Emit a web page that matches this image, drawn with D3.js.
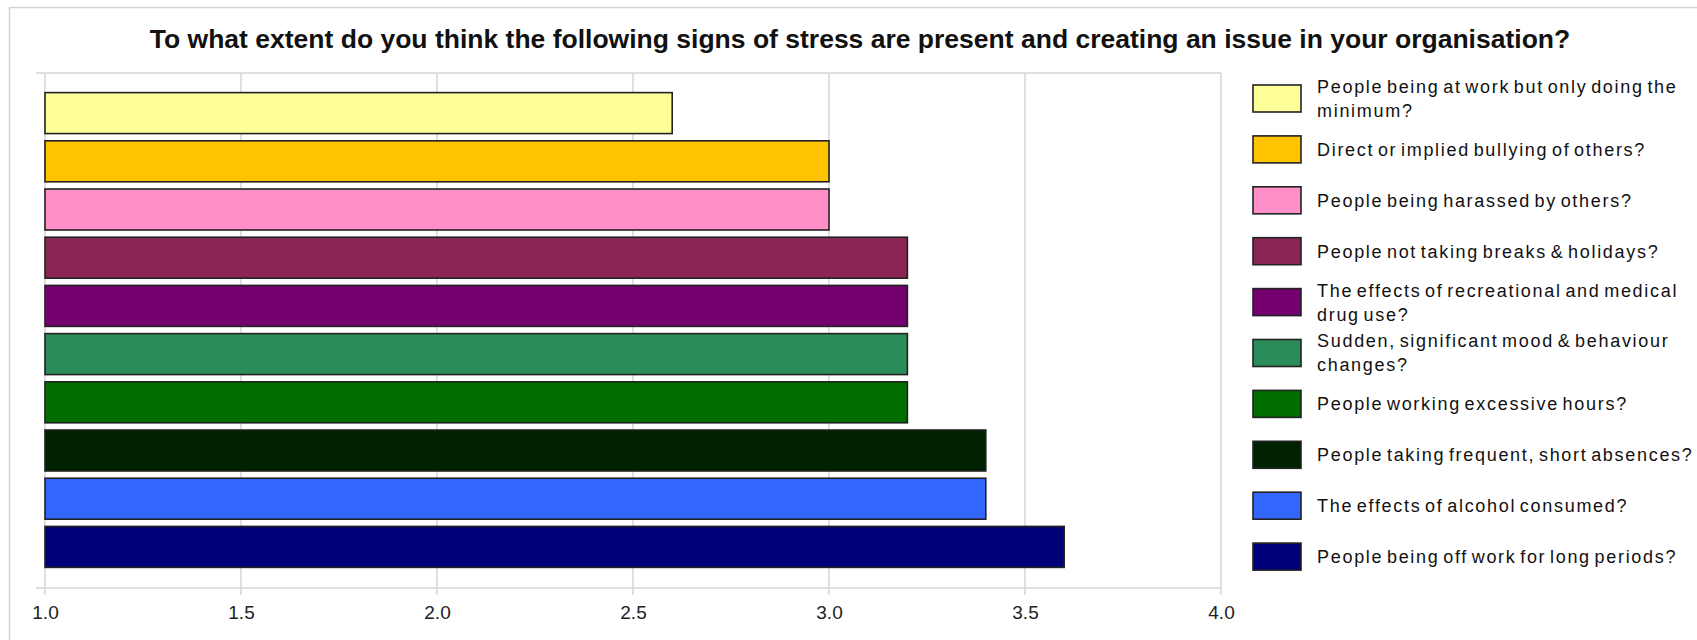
<!DOCTYPE html>
<html>
<head>
<meta charset="utf-8">
<script src="https://cdn.jsdelivr.net/npm/d3@7/dist/d3.min.js"></script>
<style>
  html, body { margin: 0; padding: 0; background: #fff; }
  svg { display: block; }
</style>
</head>
<body>
<svg id="chart" width="1697" height="640"></svg>
<script>
// Survey signs of stress and their mean rating (1 = not at all, 4 = very much)
const categories = [
  "People being at work but only doing the minimum?",
  "Direct or implied bullying of others?",
  "People being harassed by others?",
  "People not taking breaks & holidays?",
  "The effects of recreational and medical drug use?",
  "Sudden, significant mood & behaviour changes?",
  "People working excessive hours?",
  "People taking frequent, short absences?",
  "The effects of alcohol consumed?",
  "People being off work for long periods?"
];
const values = [2.6, 3.0, 3.0, 3.2, 3.2, 3.2, 3.2, 3.4, 3.4, 3.6];
const colors = [
  "#ffff99", "#ffc300", "#ff8fc6", "#8b2654", "#750070",
  "#2b8c5b", "#006f00", "#002200", "#3366ff", "#000078"
];
// Legend labels as they wrap onto lines
const legendLines = [
  ["People being at work but only doing the", "minimum?"],
  ["Direct or implied bullying of others?"],
  ["People being harassed by others?"],
  ["People not taking breaks & holidays?"],
  ["The effects of recreational and medical", "drug use?"],
  ["Sudden, significant mood & behaviour", "changes?"],
  ["People working excessive hours?"],
  ["People taking frequent, short absences?"],
  ["The effects of alcohol consumed?"],
  ["People being off work for long periods?"]
];
const xTicks = [1.0, 1.5, 2.0, 2.5, 3.0, 3.5, 4.0];
const title = "To what extent do you think the following signs of stress are present and creating an issue in your organisation?";

const svg = d3.select("#chart");
const plot = { left: 45, right: 1221, top: 73, bottom: 588 };
const font = "Liberation Sans, Arial, sans-serif";

// outer frame (only the top and left edges fall inside the view)
svg.append("rect")
  .attr("x", 9.5).attr("y", 7.5)
  .attr("width", 1800).attr("height", 800)
  .attr("fill", "none").attr("stroke", "#d4d4d4").attr("stroke-width", 1.5);

svg.append("text")
  .attr("x", 860).attr("y", 48)
  .attr("text-anchor", "middle")
  .attr("font-family", font)
  .attr("font-weight", "bold")
  .attr("font-size", 26.5)
  .attr("fill", "#111")
  .text(title);

const x = d3.scaleLinear().domain([1, 4]).range([plot.left, plot.right]);
const y = d3.scaleBand().domain(categories).range([89, 571]).paddingInner(0.15).paddingOuter(0.075);

// vertical grid lines
svg.append("g")
  .selectAll("line")
  .data(xTicks)
  .join("line")
  .attr("x1", d => x(d)).attr("x2", d => x(d))
  .attr("y1", plot.top).attr("y2", plot.bottom + 7)
  .attr("stroke", "#d6d6d6").attr("stroke-width", 1.5);

// top and bottom frame lines of the plot
[plot.top, plot.bottom].forEach(yy => {
  svg.append("line")
    .attr("x1", plot.left - 9).attr("x2", plot.right)
    .attr("y1", yy).attr("y2", yy)
    .attr("stroke", "#d6d6d6").attr("stroke-width", 1.5);
});

// bars
svg.append("g")
  .selectAll("rect")
  .data(values)
  .join("rect")
  .attr("x", x(1))
  .attr("y", (d, i) => y(categories[i]))
  .attr("width", d => x(d) - x(1))
  .attr("height", y.bandwidth())
  .attr("fill", (d, i) => colors[i])
  .attr("stroke", "#222")
  .attr("stroke-width", 1.6);

// x axis tick labels
const xAxis = d3.axisBottom(x).tickValues(xTicks).tickFormat(d3.format(".1f")).tickSize(0).tickPadding(0);
const gx = svg.append("g").attr("transform", `translate(0,${plot.bottom + 31})`).call(xAxis);
gx.select(".domain").remove();
gx.selectAll("text")
  .attr("font-family", font)
  .attr("font-size", 19)
  .attr("fill", "#222")
  .attr("dy", null);

// legend
const legend = svg.append("g");
const legendTop = 85, legendStep = 50.9;
categories.forEach((c, i) => {
  const cy = legendTop + 13.5 + i * legendStep;
  legend.append("rect")
    .attr("x", 1253).attr("y", cy - 13.5)
    .attr("width", 48).attr("height", 27)
    .attr("fill", colors[i]).attr("stroke", "#222").attr("stroke-width", 1.6);
  const lines = legendLines[i];
  lines.forEach((ln, j) => {
    const ty = cy + (j - (lines.length - 1) / 2) * 24;
    legend.append("text")
      .attr("x", 1317).attr("y", ty)
      .attr("dy", "0.36em")
      .attr("font-family", font)
      .attr("font-size", 18)
      .attr("letter-spacing", 1.7)
      .attr("word-spacing", -3)
      .attr("fill", "#111")
      .text(ln);
  });
});
</script>
</body>
</html>
